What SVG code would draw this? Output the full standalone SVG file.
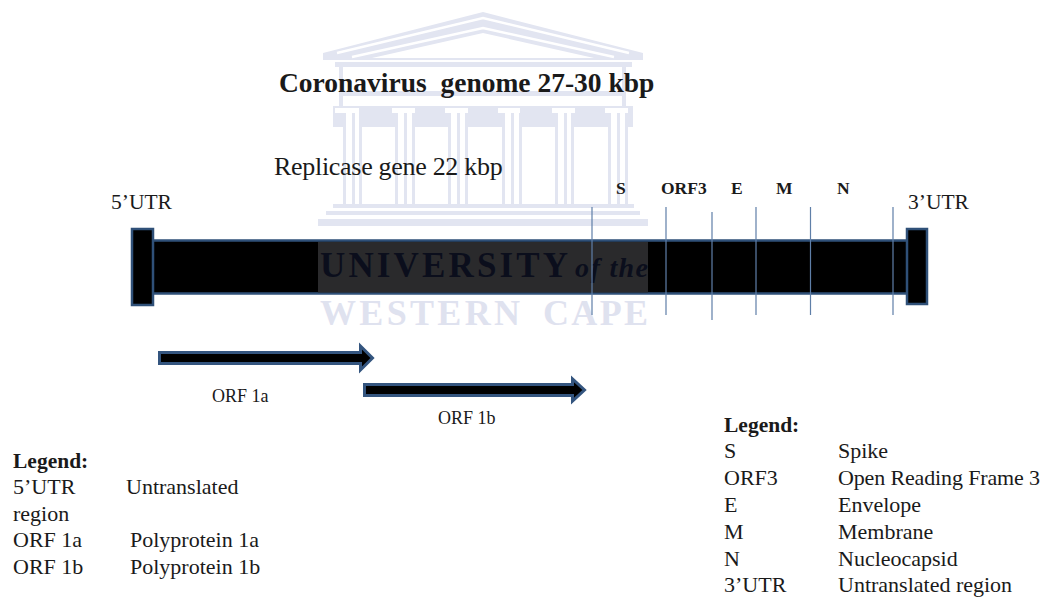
<svg xmlns="http://www.w3.org/2000/svg" width="1044" height="598" viewBox="0 0 1044 598">
<style>
text{font-family:"Liberation Serif","Times New Roman",serif;fill:#1a1a1a}
.l{font-size:22px}
.h{font-size:21.500px;font-weight:bold}
.g{font-size:17.500px;font-weight:bold}
.o{font-size:18px}
.u{font-size:21.500px}
.wm{fill:#e2e5f1}
.wt{font-size:36px;font-weight:bold;fill:#dfe2ef}
.dk{font-weight:bold;fill:#0b0e1c}
.box{fill:#000;stroke:#2f5078;stroke-width:2.500}
.tick{stroke:#5f7fa8;stroke-width:1.200;fill:none}
.arrow{fill:#000;stroke:#34557f;stroke-width:3}
</style>
<rect width="1044" height="598" fill="#fff"/>
<g id="watermark">
<path class="wm" d="M323 53L483 12L643 53V60H323Z"/>
<path d="M337 53L483 18L629 53" fill="none" stroke="#fff" stroke-width="2.500"/>
<path d="M352 57L483 28L614 57" fill="none" stroke="#fff" stroke-width="2.500"/>
<path d="M372 58L483 33L594 58Z" fill="#fff"/>
<rect class="wm" x="335" y="62" width="297" height="5"/>
<rect class="wm" x="339" y="67" width="4" height="40"/>
<rect class="wm" x="622" y="67" width="4" height="40"/>
<rect class="wm" x="340" y="91" width="286" height="5"/>
<rect class="wm" x="333" y="106" width="300" height="21"/>
<g fill="#fff">
<rect x="335" y="108" width="24" height="5"/><rect x="392" y="108" width="23" height="5"/><rect x="445" y="108" width="23" height="5"/><rect x="498" y="108" width="22" height="5"/><rect x="552" y="108" width="23" height="5"/><rect x="605" y="108" width="23" height="5"/>
<rect x="343" y="113" width="19" height="14"/><rect x="395" y="113" width="20" height="14"/><rect x="448" y="113" width="20" height="14"/><rect x="502" y="113" width="20" height="14"/><rect x="555" y="113" width="19" height="14"/><rect x="608" y="113" width="20" height="14"/>
</g>
<g class="wm">
<rect x="343" y="113" width="3" height="91"/><rect x="352" y="113" width="3" height="91"/><rect x="359" y="113" width="3" height="91"/>
<rect x="395" y="113" width="3" height="91"/><rect x="404" y="113" width="3" height="91"/><rect x="412" y="113" width="3" height="91"/>
<rect x="448" y="113" width="3" height="91"/><rect x="457" y="113" width="3" height="91"/><rect x="465" y="113" width="3" height="91"/>
<rect x="502" y="113" width="3" height="91"/><rect x="511" y="113" width="3" height="91"/><rect x="519" y="113" width="3" height="91"/>
<rect x="555" y="113" width="3" height="91"/><rect x="564" y="113" width="3" height="91"/><rect x="571" y="113" width="3" height="91"/>
<rect x="608" y="113" width="3" height="91"/><rect x="617" y="113" width="3" height="91"/><rect x="625" y="113" width="3" height="91"/>
</g>
<rect class="wm" x="333" y="204" width="301" height="4"/>
<rect class="wm" x="326" y="211" width="314" height="4"/>
<rect class="wm" x="318" y="219" width="330" height="7"/>
<text x="320" y="325" class="wt" textLength="200" lengthAdjust="spacing">WESTERN</text>
<text x="543" y="325" class="wt" textLength="105" lengthAdjust="spacing">CAPE</text>
</g>
<g id="genome">
<rect class="box" x="146" y="240.500" width="768" height="53"/>
<rect x="318" y="242" width="330" height="50.500" fill="#2a2a2c"/>
<text x="320" y="277" class="dk" style="font-size:35px" textLength="248" lengthAdjust="spacing">UNIVERSITY</text>
<text x="575" y="277" class="dk" style="font-size:28px;font-style:italic" textLength="73" lengthAdjust="spacing">of the</text>
</g>
<g id="utr5"><rect class="box" x="132" y="229" width="21" height="76"/></g>
<g id="utr3"><rect class="box" x="907" y="229" width="20" height="75"/></g>
<g id="connectors">
<path class="tick" d="M592 207V315M666 207V315M712 212V320M756 207V315M810.500 207V315M893 207V315"/>
</g>
<g id="orf1a-arrow"><path class="arrow" d="M159.500 352.500H360.500V346L372.500 358L360.500 370V363.500H159.500Z"/></g>
<g id="orf1b-arrow"><path class="arrow" d="M364.500 384.500H572.500V379L584.500 390L572.500 401V395.500H364.500Z"/></g>
<g id="title"><text x="279" y="92" style="font-size:27.500px;font-weight:bold" xml:space="preserve">Coronavirus  genome 27-30 kbp</text></g>
<g id="replicase"><text x="274" y="175" style="font-size:26px;letter-spacing:-0.3px">Replicase gene 22 kbp</text></g>
<g id="labels">
<text x="111" y="209" class="u">5’UTR</text>
<text x="908" y="209" class="u">3’UTR</text>
<text x="616" y="194" class="g">S</text>
<text x="661" y="194" class="g">ORF3</text>
<text x="731" y="194" class="g">E</text>
<text x="776" y="194" class="g">M</text>
<text x="837" y="194" class="g">N</text>
<text x="212" y="402" class="o">ORF 1a</text>
<text x="438" y="424" class="o">ORF 1b</text>
</g>
<g id="legend-left">
<text x="13" y="468" class="h">Legend:</text>
<text x="13" y="494" class="l">5’UTR</text><text x="126" y="494" class="l">Untranslated</text>
<text x="13" y="521" class="l">region</text>
<text x="13" y="547" class="l">ORF 1a</text><text x="130" y="547" class="l">Polyprotein 1a</text>
<text x="13" y="574" class="l">ORF 1b</text><text x="130" y="574" class="l">Polyprotein 1b</text>
</g>
<g id="legend-right">
<text x="724" y="432" class="h">Legend:</text>
<text x="724" y="458" class="l">S</text><text x="838" y="458" class="l">Spike</text>
<text x="724" y="485" class="l">ORF3</text><text x="838" y="485" class="l" textLength="202">Open Reading Frame 3</text>
<text x="724" y="512" class="l">E</text><text x="838" y="512" class="l">Envelope</text>
<text x="724" y="539" class="l">M</text><text x="838" y="539" class="l">Membrane</text>
<text x="724" y="566" class="l">N</text><text x="838" y="566" class="l">Nucleocapsid</text>
<text x="724" y="592" class="l">3’UTR</text><text x="838" y="592" class="l">Untranslated region</text>
</g>
</svg>
